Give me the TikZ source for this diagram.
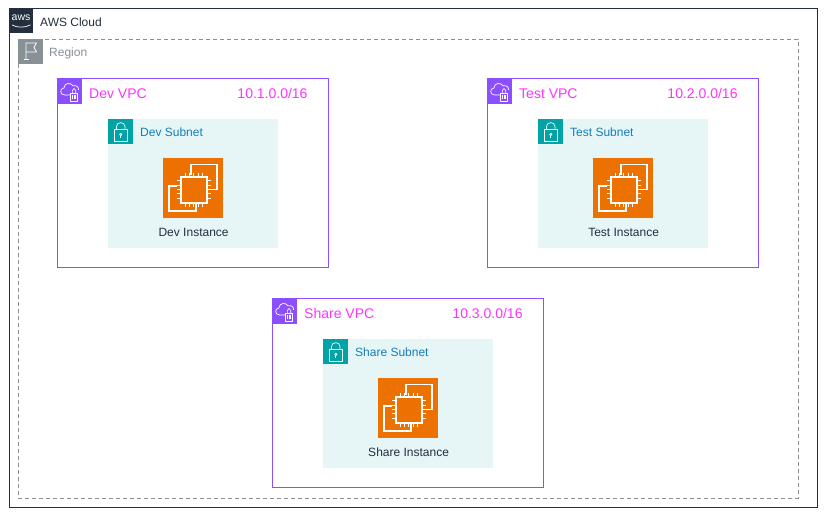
\documentclass[tikz,border=0pt]{standalone}
\usepackage{fontspec}
\setmainfont{Liberation Sans}
\usetikzlibrary{positioning}
\definecolor{CloudDark}{HTML}{232F3E}
\definecolor{RegionGrey}{HTML}{879196}
\definecolor{VpcPurple}{HTML}{8C4FFF}
\definecolor{VpcPink}{HTML}{FF33FF}
\definecolor{SubnetTeal}{HTML}{00A4A6}
\definecolor{SubnetFill}{HTML}{E6F6F7}
\definecolor{SubnetBlue}{HTML}{147EBA}
\definecolor{ChipOrange}{HTML}{ED7100}

\begin{document}
\begin{tikzpicture}[
    x=1pt, y=-1pt,
    font=\fontsize{12}{14}\selectfont,
    framebox/.style={inner sep=0pt, outer sep=0pt, anchor=north west},
    iconsq/.style={framebox, minimum width=25pt, minimum height=25pt},
    caption/.style={anchor=west, inner sep=0pt},
    vpcbox/.style={framebox, draw=VpcPurple, line width=0.9pt, minimum width=271pt, minimum height=189pt},
    subnetbox/.style={framebox, fill=SubnetFill, minimum width=170pt, minimum height=129pt},
    glyph/.style={draw=white, line width=0.8pt, line join=round},
    chipline/.style={draw=white, line width=1.7pt},
]
\useasboundingbox (0,0) rectangle (826,517);
\fill[white] (0,0) rectangle (826,517);

\begin{scope}[yshift=0.1pt]
% ---- cloud and region ----
\node[framebox, draw=CloudDark, line width=1pt, minimum width=808pt, minimum height=499pt] (cloud) at (9,9) {};
\node[iconsq, fill=CloudDark, minimum width=24pt, minimum height=24pt] (cloudicon) at (9,9) {};
\node[font=\fontsize{10.5}{11}\selectfont, text=white, inner sep=0pt] (awsmark) at (21,18) {aws};
\draw[white, line width=0.7pt] (12,25) .. controls (17,28) and (25,28) .. (30.5,25);
\node[caption, text=CloudDark, right=7pt of cloudicon, yshift=-1pt] (cloudlabel) {AWS Cloud};

\node[framebox, draw=RegionGrey, line width=0.7pt, dash pattern=on 4pt off 3pt, minimum width=780pt, minimum height=459pt] (region) at (18,39) {};
\node[iconsq, fill=RegionGrey] (regionicon) at (18,39) {};
\draw[glyph] (26,59.5) -- (26,43) -- (36.5,43) -- (34,47.5) -- (36.5,52) -- (26,52);
\draw[glyph] (23.5,59.5) -- (29,59.5);
\node[caption, text=RegionGrey, right=6pt of regionicon, yshift=-2pt] (regionlabel) {Region};

% ---- one vpc block per environment ----
\foreach \name/\cidr/\ox/\oy in {Dev/10.1.0.0/0/0, Test/10.2.0.0/430/0, Share/10.3.0.0/215/220} {
\begin{scope}[shift={(\ox,\oy)}]
    \node[vpcbox] (\name vpc) at (57,79) {};
    \node[iconsq, fill=VpcPurple] (\name vpcicon) at (57,79) {};
    % cloud with lock
    \draw[glyph, line width=0.7pt] (70,95) -- (64.5,95) .. controls (59.5,95) and (59.5,88.5) .. (64,88) .. controls (64,83) and (71,82) .. (73,86) .. controls (76,85) and (79,87) .. (78.5,90);
    \draw[glyph, line width=0.7pt] (70.5,93) rectangle (77.5,101);
    \draw[glyph, line width=0.6pt] (72.3,93) -- (72.3,90.5) .. controls (72.3,88) and (75.7,88) .. (75.7,90.5) -- (75.7,93);
    \draw[glyph, line width=0.6pt] (72.5,95) -- (72.5,99) (74,95) -- (74,99) (75.5,95) -- (75.5,99);
    \node[caption, text=VpcPink, font=\fontsize{14}{16}\selectfont, right=7pt of \name vpcicon, yshift=-2pt] (\name vpclabel) {\name{} VPC};
    \node[text=VpcPink, font=\fontsize{14}{16}\selectfont, inner sep=0pt] (\name cidr) at (272.5,93.5) {\cidr/16};

    \node[subnetbox] (\name subnet) at (108,119) {};
    \node[iconsq, fill=SubnetTeal] (\name subneticon) at (108,119) {};
    % padlock
    \draw[glyph, line width=0.7pt] (114,129.5) rectangle (127.5,141);
    \draw[glyph, line width=0.7pt] (116.5,129.5) -- (116.5,126.5) .. controls (116.5,121.5) and (125,121.5) .. (125,126.5) -- (125,129.5);
    \draw[glyph, line width=0.7pt] (120.8,134.5) circle (1.2pt);
    \draw[glyph, line width=0.7pt] (120.8,135.7) -- (120.8,138);
    \node[caption, text=SubnetBlue, right=7pt of \name subneticon, yshift=-1pt] (\name subnetlabel) {\name{} Subnet};

    \node[framebox, fill=ChipOrange, minimum width=60pt, minimum height=60pt] (\name chip) at (163,158) {};
    \begin{scope}[shift={(163,158)}]
        \draw[chipline] (27.7,16.7) -- (27.7,6.7) -- (53.7,6.7) -- (53.7,31.7) -- (45,31.7);
        \draw[chipline] (14.3,28) -- (6.3,28) -- (6.3,53) -- (32.7,53) -- (32.7,45);
        \draw[chipline] (18,19) rectangle (44,45);
        \foreach \p in {22,26.3,30.6,35,39.3} {
            \draw[white, line width=0.9pt] (\p,15) -- (\p,19) (\p,45) -- (\p,49);
        }
        \foreach \p in {23,27.3,31.6,36,40.3} {
            \draw[white, line width=0.9pt] (14,\p) -- (18,\p) (44,\p) -- (48,\p);
        }
    \end{scope}
    \node[text=CloudDark, inner sep=0pt, below=7pt of \name chip, xshift=0.6pt, yshift=-3pt] (\name instance) {\name{} Instance};
\end{scope}
}
\end{scope}
\end{tikzpicture}
\end{document}
